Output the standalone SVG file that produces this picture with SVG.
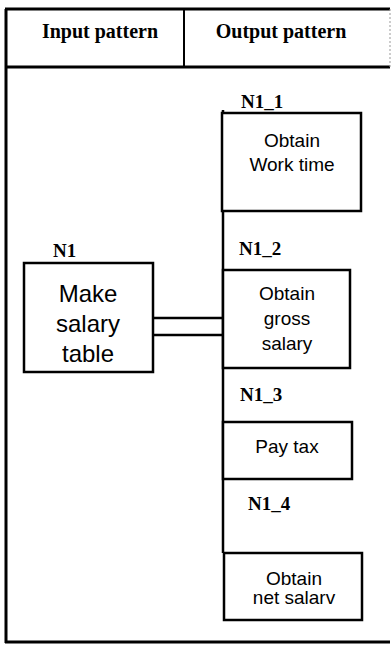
<svg xmlns="http://www.w3.org/2000/svg" width="392" height="648" viewBox="0 0 392 648">
  <style>
    .frame { fill: none; stroke: #000; stroke-width: 3; }
    .box { fill: #fff; stroke: #000; stroke-width: 2.5; }
    .line { fill: none; stroke: #000; stroke-width: 2.5; }
    .head { font-family: "Liberation Serif", serif; font-weight: bold; font-size: 20px; text-anchor: middle; fill: #000; }
    .id { font-family: "Liberation Serif", serif; font-weight: bold; font-size: 19px; fill: #000; }
    .txt { font-family: "Liberation Sans", sans-serif; font-size: 19px; text-anchor: middle; fill: #000; }
    .big { font-family: "Liberation Sans", sans-serif; font-size: 24px; text-anchor: middle; fill: #000; }
  </style>
  <rect width="392" height="648" fill="#fff"/>

  <!-- table frame and header -->
  <g id="frame">
    <line class="frame" x1="5" y1="9" x2="390" y2="9"/>
    <line class="frame" x1="6" y1="9" x2="6" y2="643"/>
    <line class="frame" x1="5" y1="67" x2="390" y2="67"/>
    <line class="frame" x1="5" y1="642" x2="390" y2="642"/>
    <line x1="184" y1="9" x2="184" y2="67" stroke="#000" stroke-width="2"/>
    <line x1="390" y1="9" x2="390" y2="67" stroke="#999" stroke-width="1" stroke-dasharray="2 2"/>
    <text class="head" x="100" y="38">Input pattern</text>
    <text class="head" x="281" y="38">Output pattern</text>
  </g>

  <!-- connectors -->
  <g id="connectors">
    <line class="line" x1="223" y1="110" x2="223" y2="553"/>
    <line class="line" x1="153" y1="318" x2="223" y2="318"/>
    <line class="line" x1="153" y1="335" x2="223" y2="335"/>
  </g>

  <g id="N1">
    <rect class="box" x="24" y="263" width="129" height="109"/>
    <text class="id" x="53" y="257">N1</text>
    <text class="big" x="88" y="302">Make</text>
    <text class="big" x="88" y="332">salary</text>
    <text class="big" x="88" y="362">table</text>
  </g>

  <g id="N1_1">
    <rect class="box" x="222" y="113" width="139" height="98"/>
    <text class="id" x="241" y="108">N1_1</text>
    <text class="txt" x="292" y="147">Obtain</text>
    <text class="txt" x="292" y="171">Work time</text>
  </g>

  <g id="N1_2">
    <rect class="box" x="223" y="270" width="127" height="98"/>
    <text class="id" x="239" y="255">N1_2</text>
    <text class="txt" x="287" y="300">Obtain</text>
    <text class="txt" x="287" y="325">gross</text>
    <text class="txt" x="287" y="350">salary</text>
  </g>

  <g id="N1_3">
    <rect class="box" x="223" y="422" width="129" height="57"/>
    <text class="id" x="240" y="401">N1_3</text>
    <text class="txt" x="287" y="453">Pay tax</text>
  </g>

  <g id="N1_4">
    <rect class="box" x="224" y="553" width="138" height="67"/>
    <text class="id" x="248" y="510">N1_4</text>
    <text class="txt" x="294" y="585">Obtain</text>
    <text class="txt" x="294" y="604">net salarv</text>
  </g>
</svg>
